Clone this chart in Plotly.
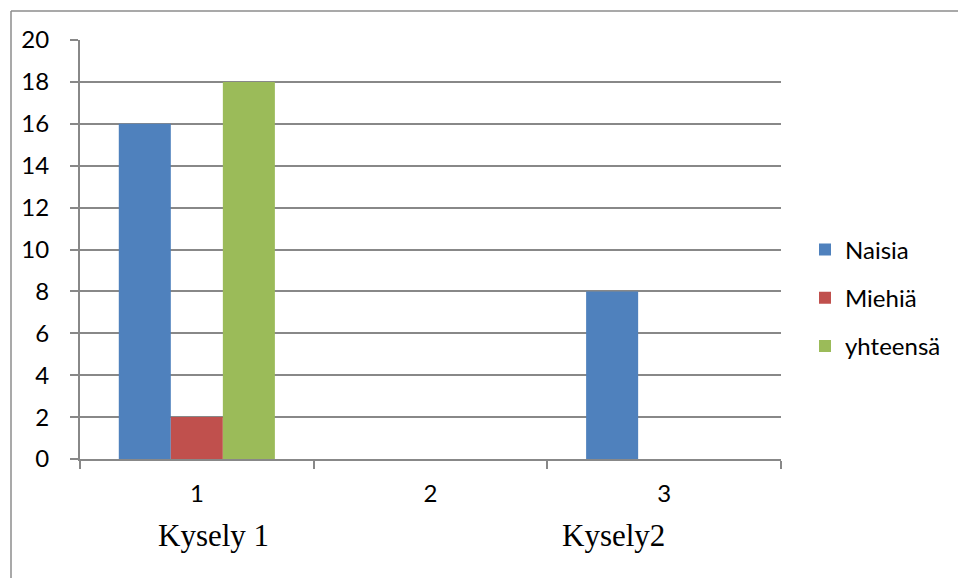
import plotly.graph_objects as go

# Survey answer counts per question category
categories = ["1", "2", "3"]
naisia = [16, 0, 8]
miehia = [2, 0, 0]
yhteensa = [18, 0, 0]
series_names = ["Naisia", "Miehiä", "yhteensä"]
series_colors = ["#4F81BD", "#C0504D", "#9BBB59"]
y_ticks = list(range(0, 21, 2))
group_labels = ["Kysely 1", "Kysely2"]

W, H = 958, 578
L, R, T, B = 80, 177, 40, 119
plot_w = W - L - R
plot_h = H - T - B


def px_x(px):
    return (px - L) / plot_w


def px_y(py):
    return (H - B - py) / plot_h


fig = go.Figure()
for i, (name, vals, col) in enumerate(zip(series_names, [naisia, miehia, yhteensa], series_colors)):
    fig.add_trace(go.Bar(
        x=categories, y=vals, name=name,
        marker=dict(color=col, line=dict(width=0)),
        legendgroup=f"g{i}",
    ))

grid_col = "#888888"
tick_font = dict(family="Lato, Noto Sans, sans-serif", size=24, color="#000000")

fig.update_layout(
    width=W, height=H,
    margin=dict(l=L, r=R, t=T, b=B),
    paper_bgcolor="white", plot_bgcolor="white",
    barmode="group", bargap=0.332, bargroupgap=0,
    showlegend=True,
    legend=dict(
        x=px_x(805), y=px_y(298), xanchor="left", yanchor="middle",
        font=dict(family="Lato, Noto Sans, sans-serif", size=24, color="#000000"),
        tracegroupgap=14, traceorder="grouped",
        bgcolor="rgba(0,0,0,0)",
    ),
    xaxis=dict(
        type="category", categoryorder="array", categoryarray=categories,
        tickson="boundaries", ticks="outside", ticklen=8, tickwidth=2, tickcolor=grid_col,
        showline=True, linecolor=grid_col, linewidth=2,
        showgrid=False, zeroline=False,
        tickfont=tick_font, ticklabelstandoff=12,
    ),
    yaxis=dict(
        range=[0, 20], tickvals=y_ticks, ticktext=[str(v) for v in y_ticks],
        ticks="outside", ticklen=8, tickwidth=2, tickcolor=grid_col,
        showline=True, linecolor=grid_col, linewidth=2,
        showgrid=True, gridcolor=grid_col, gridwidth=2,
        zeroline=False,
        tickfont=tick_font, ticklabelstandoff=16,
    ),
)

# Group captions under the category labels
caption_x = [213, 613]
for text, cx in zip(group_labels, caption_x):
    fig.add_annotation(
        x=px_x(cx), y=px_y(535), xref="paper", yref="paper",
        text=text, showarrow=False, xanchor="center", yanchor="middle",
        font=dict(family="Liberation Serif, Times New Roman, serif", size=31, color="#000000"),
    )

# Chart-area frame (left and top edges)
frame = dict(color="#8c8c8c", width=1.5)
fig.add_shape(type="line", xref="paper", yref="paper",
              x0=px_x(11), x1=px_x(11), y0=px_y(11), y1=px_y(H + 5), line=frame)
fig.add_shape(type="line", xref="paper", yref="paper",
              x0=px_x(11), x1=px_x(W + 5), y0=px_y(11), y1=px_y(11), line=frame)

fig.write_html("out.html")
